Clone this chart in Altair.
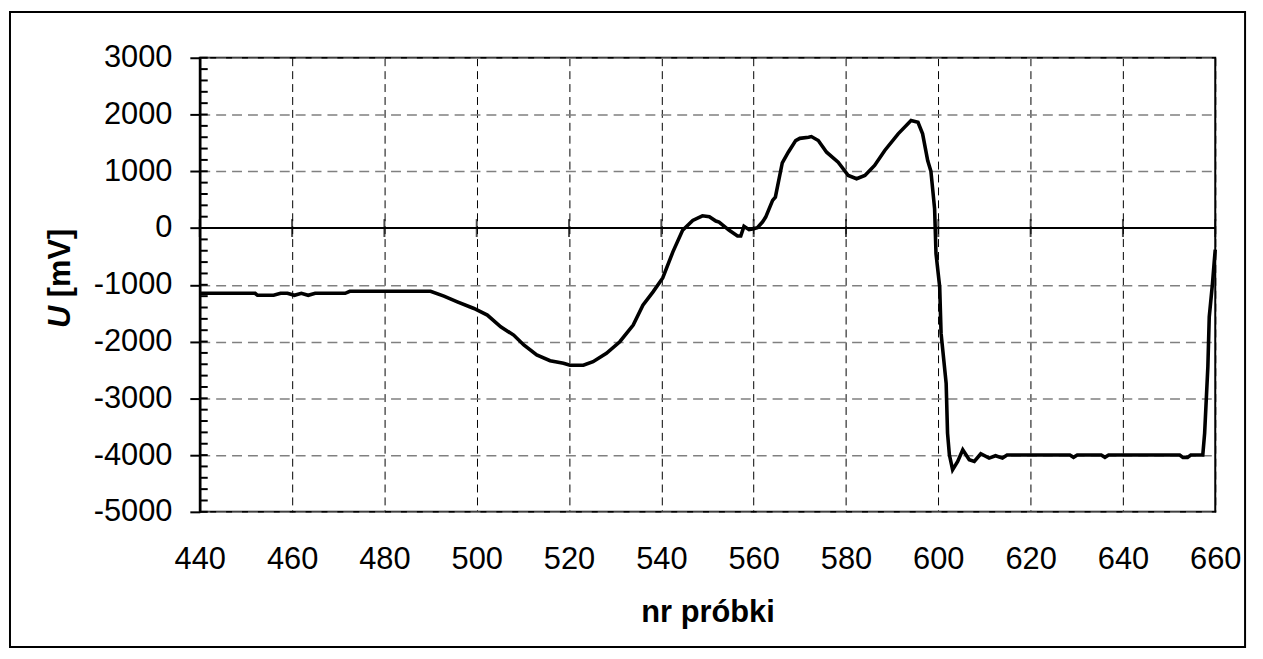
import altair as alt
import pandas as pd

# ---- data ----
sample = [440, 446, 452, 452.5, 456, 457.5, 459, 460.5, 462, 463.5, 465, 471.5, 472.5, 490,
          492.9, 495.8, 499.4, 502.3, 505.2, 508, 510.2, 513, 515.9, 518.8, 520.2, 523.1,
          525.2, 528.1, 531, 533.9, 536, 538.2, 540.3, 542.5, 544.6, 546.8, 548.9, 550.4,
          551.8, 552.5, 554.7, 556.5, 557.2, 557.9, 559, 560, 560.8, 561.9, 562.6, 564.1,
          564.7, 566.2, 567.5, 569.1, 570, 571.9, 572.5, 574, 575.8, 578.3, 580.5, 582.3,
          584.1, 586.2, 588.4, 591.3, 594.1, 595.6, 596.6, 597.7, 598.4, 599.2, 599.5,
          600.3, 600.6, 601.7, 602.0, 602.4, 603.1, 604.2, 605.3, 606.7, 607.8, 609.2,
          611, 612.4, 613.9, 614.9, 628.5, 629.3, 630.1, 635.3, 636.1, 636.9, 652.3, 653,
          654, 654.7, 657.3, 657.7, 658.4, 658.7, 659.4, 659.8, 660]
voltage = [-1150, -1150, -1150, -1185, -1185, -1150, -1150, -1185, -1150, -1185, -1150, -1150, -1115, -1115,
           -1200, -1300, -1417, -1534, -1740, -1886, -2061, -2237, -2337, -2383, -2418, -2418,
           -2355, -2207, -2003, -1710, -1358, -1124, -880, -420, -40, 135, 215, 200,
           123, 105, -40, -140, -140, 30, -28, -11, 7, 105, 193, 487,
           545, 1150, 1336, 1541, 1580, 1600, 1612, 1541, 1336, 1160, 926, 868,
           926, 1102, 1366, 1659, 1893, 1863, 1659, 1190, 1000, 340, -450,
           -1037, -1856, -2735, -3613, -3995, -4258, -4112, -3907, -4083, -4112, -3977,
           -4053, -4012, -4053, -4000, -4000, -4040, -4000, -4000, -4040, -4000, -4000, -4040,
           -4040, -4000, -4000, -3613, -2443, -1564, -977, -568, -380]

x_ticks = list(range(440, 661, 20))
y_major = list(range(-5000, 3001, 1000))
y_minor = list(range(-5000, 3001, 200))
x_title = "nr próbki"
y_title_sym = "U"
y_title_unit = "[mV]"

W, H = 1022, 457
FONT = "Liberation Sans"

df = pd.DataFrame({"s": sample, "u": voltage})
xs = alt.Scale(domain=[440, 660], nice=False, zero=False)
ys = alt.Scale(domain=[-5000, 3000], nice=False, zero=False)

x_axis = alt.Axis(values=x_ticks, title=x_title, grid=True, gridColor="#000000",
                  gridDash=[8, 5], gridWidth=1, ticks=False, tickSize=0, domain=False,
                  labelPadding=33, labelFontSize=31, labelColor="#000000", labelFont=FONT,
                  labelFlush=False, titleFontSize=31, titleFontWeight="bold",
                  titleFont=FONT, titleColor="#000000", titlePadding=23,
                  labelExpr="datum.value + ''")
y_axis = alt.Axis(values=y_major, title=None, grid=True, gridColor="#808080",
                  gridDash=[10, 6], gridWidth=1.5, tickSize=10, tickWidth=2,
                  tickColor="#000000", domain=True, domainWidth=2.5, domainColor="#000000",
                  labelPadding=18, labelFontSize=31, labelColor="#000000", labelFont=FONT,
                  labelExpr="datum.value + ''")

X = alt.X("s:Q", scale=xs, axis=x_axis)
Y = alt.Y("u:Q", scale=ys, axis=y_axis)

line = alt.Chart(df).mark_line(color="black", strokeWidth=3.6).encode(x=X, y=Y)

zero = alt.Chart(pd.DataFrame({"u": [0]})).mark_rule(color="black", strokeWidth=2).encode(y=Y)

xt = alt.Chart(pd.DataFrame({"s": x_ticks, "u": [0] * len(x_ticks)})).mark_tick(
    orient="vertical", size=18, thickness=2, color="black"
).encode(x=X, y=Y)

minor = alt.Chart(pd.DataFrame({"u": y_minor})).mark_rule(color="black", strokeWidth=2).encode(
    y=Y, x=alt.value(0), x2=alt.value(8)
)

frame = alt.Chart(pd.DataFrame({"f": [1]})).mark_rect(
    fill="white", fillOpacity=0, stroke="black", strokeWidth=2
).encode(
    x=alt.value(-191), x2=alt.value(1052), y=alt.value(-46), y2=alt.value(593)
)

u_txt = alt.Chart(pd.DataFrame({"t": [y_title_sym]})).mark_text(
    angle=270, align="left", baseline="middle", fontSize=31, fontWeight="bold",
    fontStyle="italic", font=FONT, color="black"
).encode(text="t:N", x=alt.value(-140), y=alt.value(272))

unit_txt = alt.Chart(pd.DataFrame({"t": [y_title_unit]})).mark_text(
    angle=270, align="left", baseline="middle", fontSize=31, fontWeight="bold",
    font=FONT, color="black"
).encode(text="t:N", x=alt.value(-140), y=alt.value(241))

chart = alt.layer(frame, zero, xt, minor, line, u_txt, unit_txt).properties(
    width=W, height=H,
    autosize=alt.AutoSizeParams(type="none"),
    padding={"left": 193, "top": 48, "right": 40, "bottom": 142},
).configure(
    background="white", font=FONT,
    view=alt.ViewConfig(stroke="black", strokeWidth=2),
)

chart.save("out.html", embed_options={"renderer": "svg", "actions": False})
